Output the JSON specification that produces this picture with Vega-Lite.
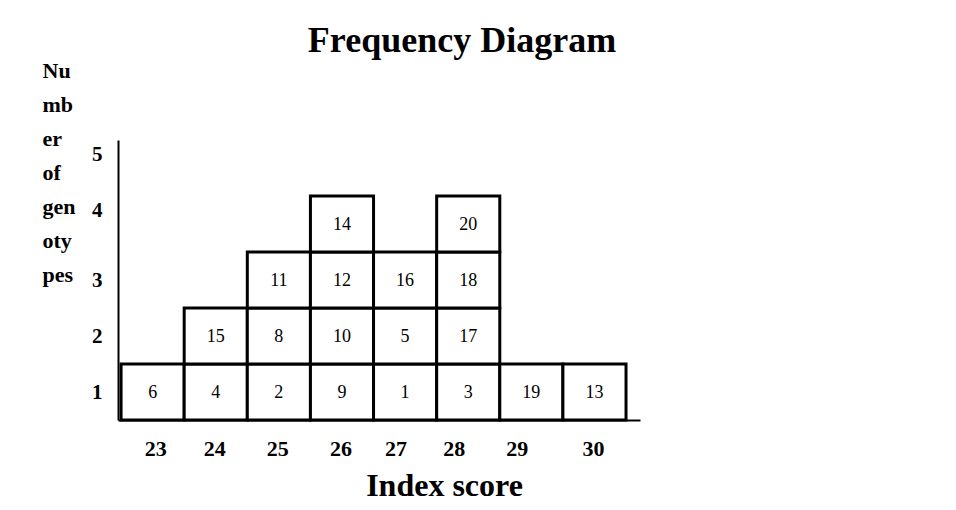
{
  "$schema": "https://vega.github.io/schema/vega-lite/v6.json",
  "autosize": {"type": "none"},
  "padding": {"left": 118, "top": 140, "right": 316, "bottom": 90},
  "width": 522,
  "height": 280,
  "background": "white",
  "title": {
    "text": "Frequency Diagram",
    "font": "Liberation Serif",
    "fontSize": 36,
    "fontWeight": "bold",
    "color": "black",
    "anchor": "middle",
    "dx": 83,
    "baseline": "alphabetic",
    "offset": -29
  },
  "data": {
    "values": [
      {"score": 23, "level": 1, "genotype": 6},
      {"score": 24, "level": 1, "genotype": 4},
      {"score": 24, "level": 2, "genotype": 15},
      {"score": 25, "level": 1, "genotype": 2},
      {"score": 25, "level": 2, "genotype": 8},
      {"score": 25, "level": 3, "genotype": 11},
      {"score": 26, "level": 1, "genotype": 9},
      {"score": 26, "level": 2, "genotype": 10},
      {"score": 26, "level": 3, "genotype": 12},
      {"score": 26, "level": 4, "genotype": 14},
      {"score": 27, "level": 1, "genotype": 1},
      {"score": 27, "level": 2, "genotype": 5},
      {"score": 27, "level": 3, "genotype": 16},
      {"score": 28, "level": 1, "genotype": 3},
      {"score": 28, "level": 2, "genotype": 17},
      {"score": 28, "level": 3, "genotype": 18},
      {"score": 28, "level": 4, "genotype": 20},
      {"score": 29, "level": 1, "genotype": 19},
      {"score": 30, "level": 1, "genotype": 13}
    ]
  },
  "encoding": {
    "x": {
      "field": "score",
      "type": "ordinal",
      "scale": {"domain": [23, 24, 25, 26, 27, 28, 29, 30], "paddingInner": 0, "paddingOuter": 0.135, "align": 0.18},
      "axis": {
        "title": "Index score",
        "titleFont": "Liberation Serif",
        "titleFontSize": 32,
        "titleFontWeight": "bold",
        "titleColor": "black",
        "titleAlign": "center",
        "titleBaseline": "alphabetic",
        "titleX": 326,
        "titleY": 75,
        "labelAngle": 0,
        "labelFont": "Liberation Serif",
        "labelFontSize": 22,
        "labelFontWeight": "bold",
        "labelColor": "black",
        "labelBaseline": "alphabetic",
        "labelPadding": 35,
        "labelOffset": {"expr": "datum.value == 27 ? -9 : (datum.value == 28 || datum.value == 29) ? -14 : datum.value == 23 ? 3 : -1"},
        "ticks": false,
        "domainColor": "black",
        "domainWidth": 2
      }
    },
    "y": {
      "field": "level",
      "type": "ordinal",
      "scale": {"domain": [5, 4, 3, 2, 1], "paddingInner": 0, "paddingOuter": 0},
      "axis": {
        "title": ["Nu", "mb", "er", "of", "gen", "oty", "pes"],
        "titleFont": "Liberation Serif",
        "titleFontSize": 22,
        "titleFontWeight": "bold",
        "titleColor": "black",
        "titleAngle": 0,
        "titleAlign": "left",
        "titleBaseline": "alphabetic",
        "titleLineHeight": 34,
        "titleX": -76,
        "titleY": -63,
        "labelFont": "Liberation Serif",
        "labelFontSize": 21,
        "labelFontWeight": "bold",
        "labelColor": "black",
        "labelPadding": 16,
        "labelOffset": {"condition": {"test": "datum.value >= 4", "value": -13}, "value": 1},
        "ticks": false,
        "domainColor": "black",
        "domainWidth": 2
      }
    }
  },
  "layer": [
    {
      "mark": {"type": "rect", "fill": "white", "stroke": "black", "strokeWidth": 3}
    },
    {
      "mark": {"type": "text", "font": "Liberation Serif", "fontSize": 18, "color": "black", "baseline": "middle", "align": "center", "dy": 1},
      "encoding": {"text": {"field": "genotype", "type": "nominal"}}
    }
  ],
  "config": {"view": {"stroke": null}}
}
